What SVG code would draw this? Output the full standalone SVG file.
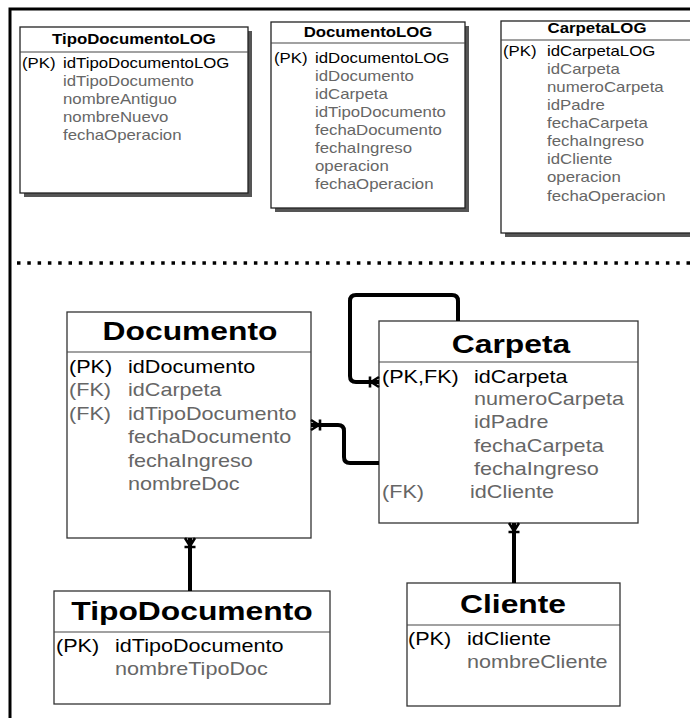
<svg xmlns="http://www.w3.org/2000/svg" width="690" height="718" viewBox="0 0 690 718">
<style>
text{font-family:"Liberation Sans",Arial,sans-serif;}
.s{font-size:14px;}
.sb{font-size:14px;font-weight:bold;text-anchor:middle;fill:#000;}
.m{font-size:18px;}
.mb{font-size:26.5px;font-weight:bold;text-anchor:middle;fill:#000;}
.k{fill:#000;}
.g{fill:#666;}
.box{fill:#fff;stroke:#222;stroke-width:1.3;}
.box2{fill:#fff;stroke:#333;stroke-width:1.3;}
.shadow{fill:#555;}
.div{stroke:#444;stroke-width:1.2;}
.conn{fill:none;stroke:#000;stroke-width:4;stroke-linejoin:round;}
.frame{fill:none;stroke:#000;stroke-width:3;}
.dots{stroke:#000;stroke-width:3.5;stroke-dasharray:3.5 6.8;}
</style>
<defs>
<marker id="many" markerUnits="userSpaceOnUse" markerWidth="16" markerHeight="16" viewBox="-12 -8 16 16" refX="0" refY="0" orient="auto-start-reverse" overflow="visible">
<path d="M-8,0 L0,-5 M-8,0 L0,5 M-9,-5.5 L-9,5.5" stroke="#000" stroke-width="2.6" fill="none"/>
</marker>
</defs>
<rect width="690" height="718" fill="#fff"/>
<path class="frame" d="M10,718 V9 H690"/>
<line class="dots" x1="17" y1="263" x2="690" y2="263"/>

<g id="TipoDocumentoLOG">
<rect class="shadow" x="24" y="31" width="228" height="166"/>
<rect class="box" x="20" y="27" width="228" height="166"/>
<line class="div" x1="20" y1="52" x2="248" y2="52"/>
<text class="sb" transform="translate(134 44) scale(1.2 1)">TipoDocumentoLOG</text>
<text class="s k" transform="translate(22 68) scale(1.2 1)">(PK)</text>
<text class="s k" transform="translate(63 68) scale(1.2 1)">idTipoDocumentoLOG</text>
<text class="s g" transform="translate(63 86) scale(1.2 1)">idTipoDocumento</text>
<text class="s g" transform="translate(63 104) scale(1.2 1)">nombreAntiguo</text>
<text class="s g" transform="translate(63 122) scale(1.2 1)">nombreNuevo</text>
<text class="s g" transform="translate(63 140) scale(1.2 1)">fechaOperacion</text>
</g>

<g id="DocumentoLOG">
<rect class="shadow" x="275" y="26" width="194" height="186"/>
<rect class="box" x="271" y="22" width="194" height="186"/>
<line class="div" x1="271" y1="43" x2="465" y2="43"/>
<text class="sb" transform="translate(368 37) scale(1.2 1)">DocumentoLOG</text>
<text class="s k" transform="translate(274 63) scale(1.2 1)">(PK)</text>
<text class="s k" transform="translate(315 63) scale(1.2 1)">idDocumentoLOG</text>
<text class="s g" transform="translate(315 81) scale(1.2 1)">idDocumento</text>
<text class="s g" transform="translate(315 99) scale(1.2 1)">idCarpeta</text>
<text class="s g" transform="translate(315 117) scale(1.2 1)">idTipoDocumento</text>
<text class="s g" transform="translate(315 135) scale(1.2 1)">fechaDocumento</text>
<text class="s g" transform="translate(315 153) scale(1.2 1)">fechaIngreso</text>
<text class="s g" transform="translate(315 171) scale(1.2 1)">operacion</text>
<text class="s g" transform="translate(315 189) scale(1.2 1)">fechaOperacion</text>
</g>

<g id="CarpetaLOG">
<rect class="shadow" x="505" y="25" width="195" height="212"/>
<rect class="box" x="501" y="21" width="195" height="212"/>
<line class="div" x1="501" y1="40" x2="696" y2="40"/>
<text class="sb" transform="translate(597 33) scale(1.2 1)">CarpetaLOG</text>
<text class="s k" transform="translate(503 56) scale(1.2 1)">(PK)</text>
<text class="s k" transform="translate(547 56) scale(1.2 1)">idCarpetaLOG</text>
<text class="s g" transform="translate(547 74) scale(1.2 1)">idCarpeta</text>
<text class="s g" transform="translate(547 92) scale(1.2 1)">numeroCarpeta</text>
<text class="s g" transform="translate(547 110) scale(1.2 1)">idPadre</text>
<text class="s g" transform="translate(547 128) scale(1.2 1)">fechaCarpeta</text>
<text class="s g" transform="translate(547 146) scale(1.2 1)">fechaIngreso</text>
<text class="s g" transform="translate(547 164) scale(1.2 1)">idCliente</text>
<text class="s g" transform="translate(547 182) scale(1.2 1)">operacion</text>
<text class="s g" transform="translate(547 201) scale(1.2 1)">fechaOperacion</text>
</g>

<g id="Documento">
<rect class="box2" x="67" y="312" width="244" height="226"/>
<line class="div" x1="67" y1="352" x2="311" y2="352"/>
<text class="mb" transform="translate(190 340) scale(1.2 1)">Documento</text>
<text class="m k" transform="translate(69 373) scale(1.2 1)">(PK)</text>
<text class="m k" transform="translate(128 373) scale(1.2 1)">idDocumento</text>
<text class="m g" transform="translate(69 396) scale(1.2 1)">(FK)</text>
<text class="m g" transform="translate(128 396) scale(1.2 1)">idCarpeta</text>
<text class="m g" transform="translate(69 420) scale(1.2 1)">(FK)</text>
<text class="m g" transform="translate(128 420) scale(1.2 1)">idTipoDocumento</text>
<text class="m g" transform="translate(128 443) scale(1.2 1)">fechaDocumento</text>
<text class="m g" transform="translate(128 467) scale(1.2 1)">fechaIngreso</text>
<text class="m g" transform="translate(128 490) scale(1.2 1)">nombreDoc</text>
</g>

<g id="Carpeta">
<rect class="box2" x="379" y="321" width="259" height="202"/>
<line class="div" x1="379" y1="362" x2="638" y2="362"/>
<text class="mb" transform="translate(511 353) scale(1.2 1)">Carpeta</text>
<text class="m k" transform="translate(382 383) scale(1.2 1)">(PK,FK)</text>
<text class="m k" transform="translate(474 383) scale(1.2 1)">idCarpeta</text>
<text class="m g" transform="translate(474 405) scale(1.2 1)">numeroCarpeta</text>
<text class="m g" transform="translate(474 428) scale(1.2 1)">idPadre</text>
<text class="m g" transform="translate(474 452) scale(1.2 1)">fechaCarpeta</text>
<text class="m g" transform="translate(474 475) scale(1.2 1)">fechaIngreso</text>
<text class="m g" transform="translate(382 498) scale(1.2 1)">(FK)</text>
<text class="m g" transform="translate(470 498) scale(1.2 1)">idCliente</text>
</g>

<g id="TipoDocumento">
<rect class="box2" x="54" y="591" width="276" height="113"/>
<line class="div" x1="54" y1="632" x2="330" y2="632"/>
<text class="mb" transform="translate(192 620) scale(1.2 1)">TipoDocumento</text>
<text class="m k" transform="translate(56 652) scale(1.2 1)">(PK)</text>
<text class="m k" transform="translate(115 652) scale(1.2 1)">idTipoDocumento</text>
<text class="m g" transform="translate(115 675) scale(1.2 1)">nombreTipoDoc</text>
</g>

<g id="Cliente">
<rect class="box2" x="407" y="583" width="213" height="123"/>
<line class="div" x1="407" y1="625" x2="620" y2="625"/>
<text class="mb" transform="translate(513 613) scale(1.2 1)">Cliente</text>
<text class="m k" transform="translate(408 645) scale(1.2 1)">(PK)</text>
<text class="m k" transform="translate(467 645) scale(1.2 1)">idCliente</text>
<text class="m g" transform="translate(467 668) scale(1.2 1)">nombreCliente</text>
</g>

<g id="connectors">
<path class="conn" d="M458,321 V301 Q458,295 452,295 H356 Q350,295 350,301 V376 Q350,382 356,382 H379" marker-end="url(#many)"/>
<path class="conn" d="M311,425 H338 Q344,425 344,431 V457 Q344,463 350,463 H379" marker-start="url(#many)"/>
<path class="conn" d="M190,538 V591" marker-start="url(#many)"/>
<path class="conn" d="M514,523 V583" marker-start="url(#many)"/>
</g>
</svg>
